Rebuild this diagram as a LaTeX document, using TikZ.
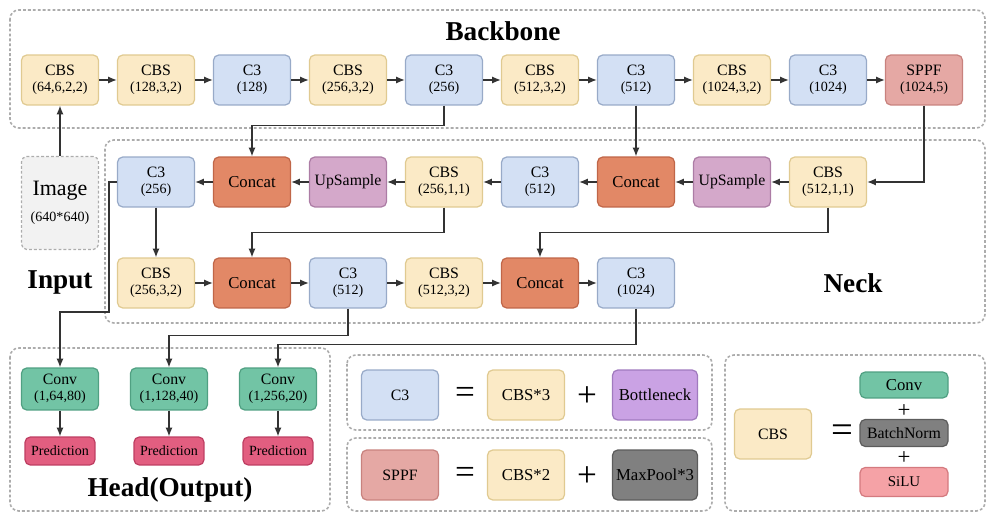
\documentclass[tikz,border=0pt]{standalone}
\usepackage{fontspec}
\setmainfont{Liberation Serif}
\usetikzlibrary{arrows.meta}

% block colours
\definecolor{cbsfill}{RGB}{251,234,198}
\definecolor{cbsdraw}{RGB}{224,202,145}
\definecolor{cthreefill}{RGB}{211,224,244}
\definecolor{cthreedraw}{RGB}{152,170,200}
\definecolor{sppffill}{RGB}{229,168,164}
\definecolor{sppfdraw}{RGB}{200,130,126}
\definecolor{catfill}{RGB}{226,136,102}
\definecolor{catdraw}{RGB}{192,102,72}
\definecolor{upfill}{RGB}{212,168,202}
\definecolor{updraw}{RGB}{172,124,165}
\definecolor{convfill}{RGB}{114,196,165}
\definecolor{convdraw}{RGB}{80,160,130}
\definecolor{predfill}{RGB}{226,94,128}
\definecolor{preddraw}{RGB}{190,62,98}
\definecolor{bottfill}{RGB}{202,162,228}
\definecolor{bottdraw}{RGB}{160,122,190}
\definecolor{poolfill}{RGB}{128,128,128}
\definecolor{pooldraw}{RGB}{92,92,92}
\definecolor{silufill}{RGB}{245,162,166}
\definecolor{siludraw}{RGB}{212,122,127}

\newcommand{\prm}[1]{\\[-1pt]{\fontsize{8}{9}\selectfont(#1)}}

\begin{document}
\begin{tikzpicture}[x=0.02cm,y=-0.02cm,
    blk/.style={rounded corners=3pt,line width=0.7pt,minimum width=1.54cm,minimum height=1cm,
      align=center,inner sep=1pt,font=\fontsize{9}{10}\selectfont},
    cbs/.style={blk,fill=cbsfill,draw=cbsdraw},
    cthree/.style={blk,fill=cthreefill,draw=cthreedraw},
    sppf/.style={blk,fill=sppffill,draw=sppfdraw},
    cat/.style={blk,fill=catfill,draw=catdraw,font=\fontsize{9.5}{10}\selectfont},
    upsmp/.style={blk,fill=upfill,draw=updraw},
    conv/.style={blk,fill=convfill,draw=convdraw,minimum height=0.84cm},
    pred/.style={blk,fill=predfill,draw=preddraw,minimum width=1.4cm,minimum height=0.56cm,font=\fontsize{8}{9}\selectfont},
    arr/.style={-{Latex[length=5pt,width=4pt]},line width=0.7pt,black!80},
    grp/.style={draw=gray!65,dash pattern=on 1.6pt off 1.2pt,line width=0.9pt,rounded corners=5pt},
    title/.style={font=\fontsize{15.5}{16}\selectfont\bfseries},
    sym/.style={font=\fontsize{20}{20}\selectfont,inner sep=0pt}]
  \useasboundingbox (0,0) rectangle (987,513);

  % dashed group frames
  \draw[grp] (10,10) rectangle (985,128);
  \draw[grp] (105,140) rectangle (985,323);
  \draw[grp] (10,348) rectangle (330,511);
  \draw[grp] (347,355) rectangle (712,430);
  \draw[grp] (347,438) rectangle (712,511);
  \draw[grp] (725,355) rectangle (985,511);

  \node[title] (tbb) at (503,31) {Backbone};
  \node[title] (tneck) at (853,283) {Neck};
  \node[title] (tin) at (60,282) {Input};
  \node[title] (thead) at (170,490) {Head(Output)};

  % input
  \node[blk,fill=gray!10,draw=gray!65,dash pattern=on 1.6pt off 1.2pt,minimum height=1.86cm,
    font=\fontsize{12.5}{14}\selectfont] (img) at (60,203) {Image\\[1pt]{\fontsize{8}{9}\selectfont(640*640)}};

  % backbone
  \node[cbs] (b1) at (60,80) {CBS\prm{64,6,2,2}};
  \node[cbs] (b2) at (156,80) {CBS\prm{128,3,2}};
  \node[cthree] (b3) at (252,80) {C3\prm{128}};
  \node[cbs] (b4) at (348,80) {CBS\prm{256,3,2}};
  \node[cthree] (b5) at (444,80) {C3\prm{256}};
  \node[cbs] (b6) at (540,80) {CBS\prm{512,3,2}};
  \node[cthree] (b7) at (636,80) {C3\prm{512}};
  \node[cbs] (b8) at (732,80) {CBS\prm{1024,3,2}};
  \node[cthree] (b9) at (828,80) {C3\prm{1024}};
  \node[sppf] (b10) at (924,80) {SPPF\prm{1024,5}};
  \foreach \i [evaluate=\i as \j using int(\i+1)] in {1,...,9}
    \draw[arr] (b\i) -- (b\j);
  \draw[arr] (img) -- (b1);

  % neck, upper row
  \node[cthree] (n1) at (156,182) {C3\prm{256}};
  \node[cat] (n2) at (252,182) {Concat};
  \node[upsmp] (n3) at (348,182) {UpSample};
  \node[cbs] (n4) at (444,182) {CBS\prm{256,1,1}};
  \node[cthree] (n5) at (540,182) {C3\prm{512}};
  \node[cat] (n6) at (636,182) {Concat};
  \node[upsmp] (n7) at (732,182) {UpSample};
  \node[cbs] (n8) at (828,182) {CBS\prm{512,1,1}};
  \foreach \i [evaluate=\i as \j using int(\i-1)] in {8,...,2}
    \draw[arr] (n\i) -- (n\j);

  % neck, lower row
  \node[cbs] (m1) at (156,283) {CBS\prm{256,3,2}};
  \node[cat] (m2) at (252,283) {Concat};
  \node[cthree] (m3) at (348,283) {C3\prm{512}};
  \node[cbs] (m4) at (444,283) {CBS\prm{512,3,2}};
  \node[cat] (m5) at (540,283) {Concat};
  \node[cthree] (m6) at (636,283) {C3\prm{1024}};
  \foreach \i [evaluate=\i as \j using int(\i+1)] in {1,...,5}
    \draw[arr] (m\i) -- (m\j);

  % skip links
  \draw[arr] (b5.south) -- ++(0,20) -| (n2);
  \draw[arr] (b7) -- (n6);
  \draw[arr] (b10.south) |- (n8.east);
  \draw[arr] (n1) -- (m1);
  \draw[arr] (n4.south) -- ++(0,25) -| (m2);
  \draw[arr] (n8.south) -- ++(0,25) -| (m5);

  % head
  \node[conv] (h1) at (60,389) {Conv\prm{1,64,80}};
  \node[conv] (h2) at (169,389) {Conv\prm{1,128,40}};
  \node[conv] (h3) at (278,389) {Conv\prm{1,256,20}};
  \node[pred] (p1) at (60,451) {Prediction};
  \node[pred] (p2) at (169,451) {Prediction};
  \node[pred] (p3) at (278,451) {Prediction};
  \draw[arr] (n1.west) -- ++(-8,0) -- ++(0,130) -| (h1);
  \draw[arr] (m3.south) -- ++(0,27) -| (h2);
  \draw[arr] (m6.south) -- ++(0,36) -| (h3);
  \foreach \i in {1,2,3}
    \draw[arr] (h\i) -- (p\i);

  % legend: C3 and SPPF
  \node[cthree] (lc3) at (400,395) {C3};
  \node[sym] (leq1) at (465,395) {=};
  \node[cbs,font=\fontsize{9.5}{10}\selectfont] (lcbs3) at (526,395) {CBS*3};
  \node[sym] (lplus1) at (587,397) {+};
  \node[blk,fill=bottfill,draw=bottdraw,minimum width=1.7cm,font=\fontsize{9.5}{10}\selectfont] (lbott) at (655,395) {Bottleneck};
  \node[sppf] (lsppf) at (400,475) {SPPF};
  \node[sym] (leq2) at (465,475) {=};
  \node[cbs,font=\fontsize{9.5}{10}\selectfont] (lcbs2) at (526,475) {CBS*2};
  \node[sym] (lplus2) at (587,477) {+};
  \node[blk,fill=poolfill,draw=pooldraw,minimum width=1.7cm,font=\fontsize{9.5}{10}\selectfont] (lpool) at (655,475) {MaxPool*3};

  % legend: CBS
  \node[cbs] (lcbs) at (773,434) {CBS};
  \node[sym,font=\fontsize{22}{22}\selectfont] (leq3) at (842,434) {=};
  \node[blk,fill=convfill,draw=convdraw,minimum width=1.76cm,minimum height=0.52cm,font=\fontsize{9.5}{10}\selectfont] (lconv) at (904,385) {Conv};
  \node[sym,font=\fontsize{13}{13}\selectfont] (lplus3) at (904,411) {+};
  \node[blk,fill=poolfill,draw=pooldraw,minimum width=1.76cm,minimum height=0.54cm] (lbn) at (904,433) {BatchNorm};
  \node[sym,font=\fontsize{13}{13}\selectfont] (lplus4) at (904,458) {+};
  \node[blk,fill=silufill,draw=siludraw,minimum width=1.76cm,minimum height=0.58cm,font=\fontsize{8.5}{9}\selectfont] (lsilu) at (904,482) {SiLU};
\end{tikzpicture}
\end{document}
